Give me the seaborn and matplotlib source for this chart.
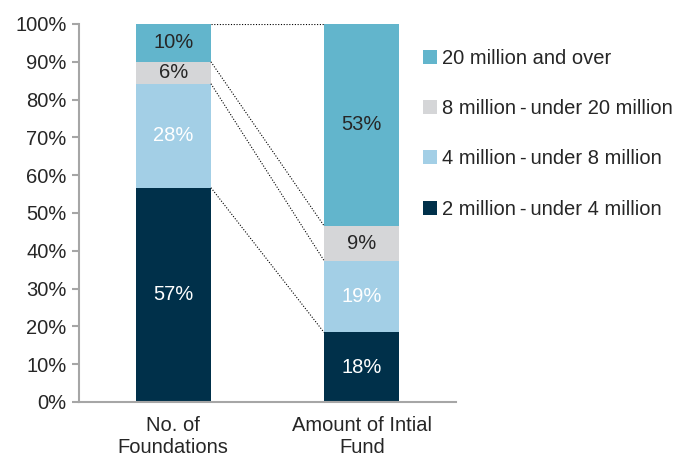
import numpy as np
import pandas as pd
import seaborn as sns
import matplotlib.pyplot as plt
from matplotlib.patches import Patch

# data (bottom segment first)
categories = ['No. of\nFoundations', 'Amount of Intial\nFund']
series = ['2 million\u2009-\u2009under 4 million', '4 million\u2009-\u2009under 8 million',
          '8 million\u2009-\u2009under 20 million', '20 million and over']
foundations = [56.7, 27.5, 5.8, 10.0]
initial_fund = [18.4, 19.0, 9.2, 53.4]
labels_foundations = ['57%', '28%', '6%', '10%']
labels_fund = ['18%', '19%', '9%', '53%']

colors = ['#00304A', '#A3CFE6', '#D5D6D8', '#62B5CC']
text_colors = ['white', 'white', '#262626', '#262626']

sns.set_style('white')
plt.rcParams['font.family'] = ['Liberation Sans', 'DejaVu Sans']
fs = 14.5

vals = np.array([foundations, initial_fund])
cum = np.cumsum(vals, axis=1)

fig = plt.figure(figsize=(6.75, 4.58), dpi=100)
ax = fig.add_axes([0.117, 0.1223, 0.5586, 0.8253])

# draw stacked bars from the top layer down so each overlays the next
for i in reversed(range(len(series))):
    df = pd.DataFrame({'category': categories, 'value': cum[:, i]})
    sns.barplot(data=df, x='category', y='value', color=colors[i],
                width=0.4, saturation=1, errorbar=None, linewidth=0, ax=ax)

# segment labels
all_labels = [labels_foundations, labels_fund]
for j in range(len(categories)):
    for i in range(len(series)):
        bottom = cum[j, i] - vals[j, i]
        ax.text(j, bottom + vals[j, i] / 2, all_labels[j][i], ha='center',
                va='center', fontsize=fs, color=text_colors[i])

# dotted connectors between the bars
ax.plot([0.2, 0.8], [100, 100], color='black', lw=0.8, ls=(0, (1, 1.5)))
for i in range(len(series) - 1):
    ax.plot([0.2, 0.8], [cum[0, i], cum[1, i]], color='black', lw=0.8,
            ls=(0, (1, 1.5)))

ax.set_xlim(-0.5, 1.5)
ax.set_ylim(0, 100)
ax.set_yticks(np.arange(0, 101, 10))
ax.set_yticklabels([f'{v}%' for v in range(0, 101, 10)], fontsize=fs,
                   color='#262626')
ax.set_xticks([0, 1])
ax.set_xticklabels(categories, fontsize=fs, color='#262626', linespacing=1.2)
ax.set_xticks([-0.5, 0.5, 1.5], minor=True)
ax.tick_params(axis='x', which='major', length=0, pad=10)
ax.tick_params(axis='x', which='minor', length=5, width=1.5, color='#A6A6A6',
               direction='out')
ax.tick_params(axis='y', length=5, width=1.5, color='#A6A6A6',
               direction='out', left=True, pad=4)
ax.set_xlabel('')
ax.set_ylabel('')
for s in ['top', 'right']:
    ax.spines[s].set_visible(False)
for s in ['left', 'bottom']:
    ax.spines[s].set_color('#A6A6A6')
    ax.spines[s].set_linewidth(1.5)

handles = [Patch(facecolor=colors[i], edgecolor='none') for i in reversed(range(4))]
fig.legend(handles, list(reversed(series)), loc='upper left',
           bbox_to_anchor=(0.626, 0.893), frameon=False, fontsize=fs,
           handlelength=0.7, handleheight=0.7, handletextpad=0.25,
           labelspacing=1.55, borderpad=0, borderaxespad=0,
           labelcolor='#262626')

fig.savefig('out.png', dpi=100)
